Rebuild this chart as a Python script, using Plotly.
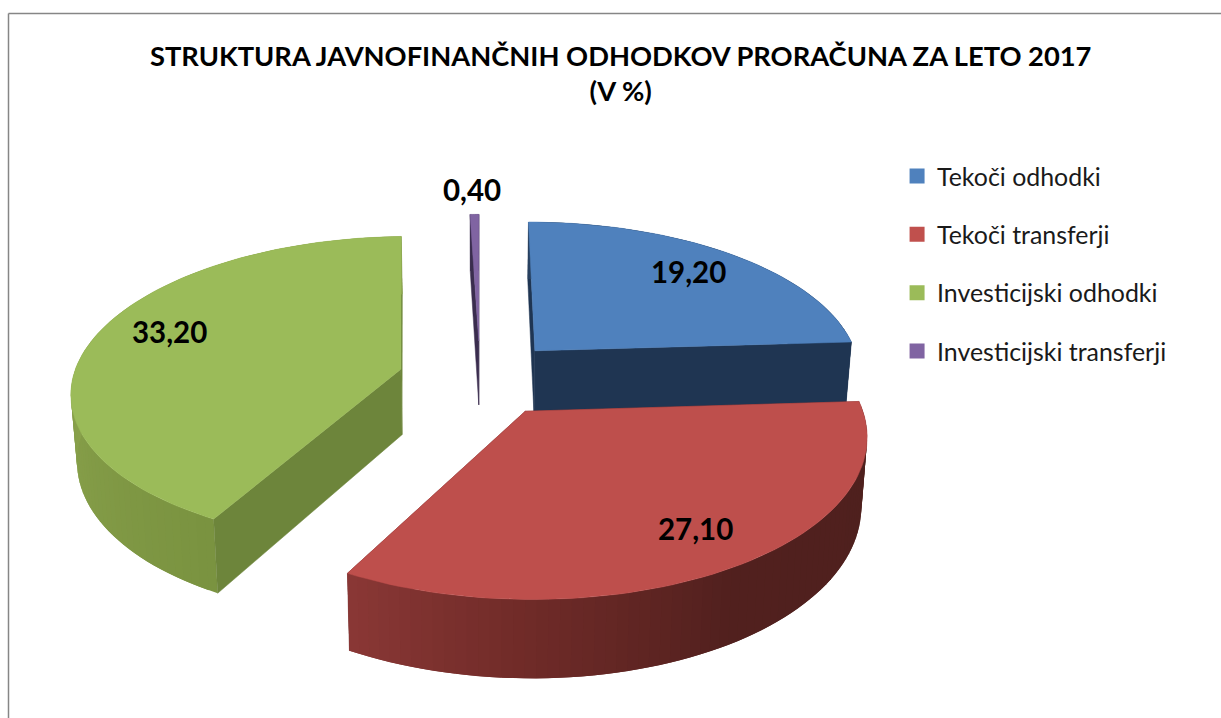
import math
import plotly.graph_objects as go

# ---- data ----
categories = ["Tekoči odhodki", "Tekoči transferji", "Investicijski odhodki", "Investicijski transferji"]
values = [19.20, 27.10, 33.20, 0.40]
chart_title = "STRUKTURA JAVNOFINANČNIH ODHODKOV PRORAČUNA ZA LETO 2017<br>(V %)"

# ---- styling ----
top_colors = ["#4F81BD", "#BE4F4C", "#9BBB59", "#8064A2"]
legend_colors = ["#4F81BD", "#C0504D", "#9BBB59", "#8064A2"]
radial_wall = ["#1F3552", "#6E2A28", "#6D853B", "#3A2D4E"]
outer_stops = [
    [(0, "#27405F"), (1, "#1F3552")],
    [(0, "#4E201E"), (0.5, "#51201E"), (0.77, "#702B28"), (1, "#8B3836")],
    [(0, "#7A9340"), (0.45, "#8BA34D"), (1, "#8BA34D")],
    [(0, "#3A2D4E"), (1, "#3A2D4E")],
]
label_xy = [(688, 271), (695, 528), (169, 331), (472, 189)]
FONT = "Lato"

# perspective projection of the exploded pie onto the picture
CX, CY, RX, RY, K, EXPLODE, DEPTH = 480, 378, 328, 153, 0.135, 0.25, 66


def project(u, v, down=False):
    f = 1 / (1 - K * v)
    x, y = RX * u * f, RY * v * f
    if down:
        x *= 0.985
        y += DEPTH * f
    return CX + x, CY + y


def stop_color(stops, t):
    for (t0, a), (t1, b) in zip(stops, stops[1:]):
        if t <= t1:
            s = (t - t0) / (t1 - t0)
            ca = [int(a[i:i + 2], 16) for i in (1, 3, 5)]
            cb = [int(b[i:i + 2], 16) for i in (1, 3, 5)]
            return "rgb(%d,%d,%d)" % tuple(round(p + (q - p) * s) for p, q in zip(ca, cb))
    return stops[-1][1]


def poly(pts, color, group, width=0.0):
    return go.Scatter(
        x=[p[0] for p in pts] + [pts[0][0]],
        y=[p[1] for p in pts] + [pts[0][1]],
        mode="lines", fill="toself", fillcolor=color,
        line=dict(color=color, width=width),
        hoverinfo="skip", showlegend=False, legendgroup=group,
    )


def wall(p, q):
    return [project(*p), project(*q), project(*q, True), project(*p, True)]


total = sum(values)
fig = go.Figure()
start = 0.0
spans = []
for v in values:
    end = start + v / total * 2 * math.pi
    spans.append((start, end))
    start = end

draw_order = [3, 0, 2, 1]
for i in draw_order:
    a0, a1 = spans[i]
    mid = (a0 + a1) / 2
    u0, v0 = EXPLODE * math.sin(mid), -EXPLODE * math.cos(mid)
    n = max(4, int((a1 - a0) / 0.03))
    angles = [a0 + (a1 - a0) * j / n for j in range(n + 1)]
    rim = [(u0 + math.sin(a), v0 - math.cos(a)) for a in angles]
    apex = (u0, v0)

    front_a0 = -math.sin(a0) > 0   # wall on the start edge faces the viewer
    front_a1 = math.sin(a1) > 0    # wall on the end edge faces the viewer
    if not front_a0:
        fig.add_trace(poly(wall(rim[0], apex), radial_wall[i], categories[i], 0.5))
    if not front_a1:
        fig.add_trace(poly(wall(apex, rim[-1]), radial_wall[i], categories[i], 0.5))
    for j in range(n):
        # each facet overlaps the next one so that no seam shows between them
        fig.add_trace(poly(
            wall(rim[j], rim[min(j + 2, n)]) if a1 - a0 > 0.2 else wall(rim[j], rim[j + 1]),
            stop_color(outer_stops[i], j / n), categories[i]))
    if front_a0:
        fig.add_trace(poly(wall(rim[0], apex), radial_wall[i], categories[i], 0.5))
    if front_a1:
        fig.add_trace(poly(wall(apex, rim[-1]), radial_wall[i], categories[i], 0.5))
    fig.add_trace(poly([project(*apex)] + [project(*r) for r in rim], top_colors[i], categories[i], 0.5))

# legend entries
for name, col in zip(categories, legend_colors):
    fig.add_trace(go.Scatter(
        x=[None], y=[None], mode="markers", name=name, legendgroup=name,
        marker=dict(symbol="square", size=15, color=col),
    ))

annotations = [
    dict(x=x, y=y, xref="x", yref="y", text=f"{val:.2f}".replace(".", ","), showarrow=False,
         xanchor="center", yanchor="middle",
         font=dict(family=FONT, size=29.5, color="#000000", weight="bold"))
    for (x, y), val in zip(label_xy, values)
]
annotations.append(dict(
    x=620, y=73, xref="x", yref="y", text=f"<b>{chart_title}</b>", showarrow=False,
    xanchor="center", yanchor="middle", align="center",
    font=dict(family=FONT, size=27.3, color="#000000"),
))

fig.update_layout(
    width=1221, height=718, margin=dict(l=0, r=0, t=0, b=0),
    paper_bgcolor="#FFFFFF", plot_bgcolor="#FFFFFF",
    xaxis=dict(range=[0, 1221], visible=False, fixedrange=True),
    yaxis=dict(range=[718, 0], visible=False, fixedrange=True),
    annotations=annotations,
    legend=dict(x=0.7347, y=0.7866, xanchor="left", yanchor="top", tracegroupgap=23,
                font=dict(family=FONT, size=24.9, color="#1A1A1A"),
                itemsizing="trace", bgcolor="rgba(0,0,0,0)"),
    shapes=[
        dict(type="line", x0=8.5, x1=8.5, y0=13.5, y1=718, xref="x", yref="y", line=dict(color="#868686", width=1.5)),
        dict(type="line", x0=8.5, x1=1221, y0=13.5, y1=13.5, xref="x", yref="y", line=dict(color="#868686", width=1.5)),
    ],
)
fig.write_html("out.html", config={"displayModeBar": False},
               post_script="document.body.style.margin='0';")
